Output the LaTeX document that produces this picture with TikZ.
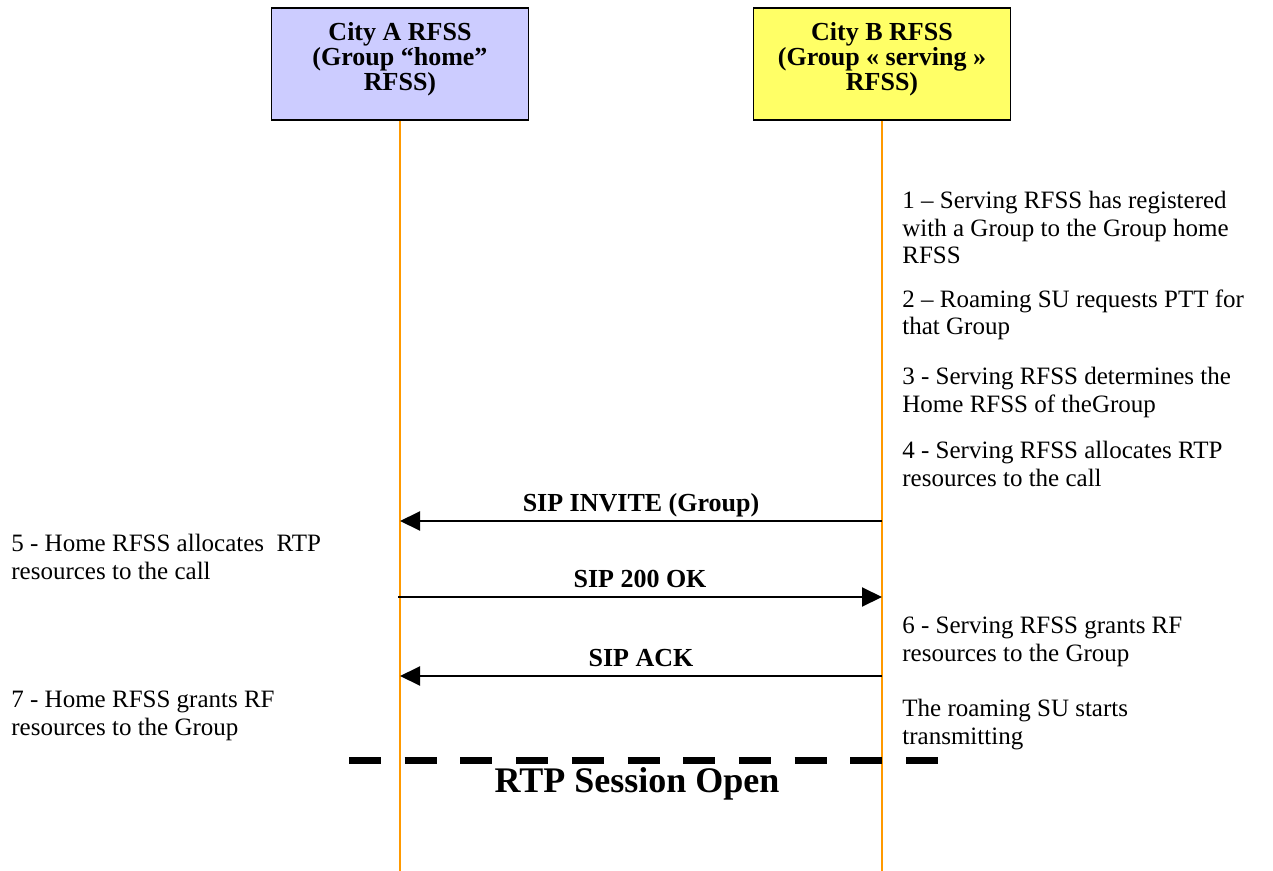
\documentclass[tikz,border=0pt]{standalone}
\usepackage{fontspec}
\setmainfont{Liberation Serif}
\usetikzlibrary{arrows.meta,positioning,calc}
\definecolor{homeblue}{RGB}{204,204,255}
\definecolor{servyellow}{RGB}{255,255,102}
\definecolor{lifeorange}{RGB}{255,153,0}
\tikzset{
  rfss/.style={draw, line width=0.8pt, minimum width=128.5pt, minimum height=56pt, align=center, inner sep=0pt, font=\fontsize{13}{12.5}\selectfont\bfseries},
  life/.style={lifeorange, line width=0.8pt},
  msg/.style={line width=1pt, -{Triangle[length=10pt,width=9.5pt]}},
  msglabel/.style={midway, anchor=base, yshift=5pt, inner sep=0pt, font=\fontsize{13}{15}\selectfont\bfseries},
  note/.style={anchor=north west, align=left, inner sep=0pt, font=\fontsize{12.5}{13.75}\selectfont},
  rtpline/.style={line width=3.5pt, dash pattern=on 16pt off 11.85pt},
}
\begin{document}
\begin{tikzpicture}[x=0.5pt,y=-0.5pt]
		\useasboundingbox (0,0) rectangle (1273,871);
		% the two RFSS
		\node[rfss, fill=homeblue](A) at (400,64) {City A RFSS\\(Group “home”\\RFSS)\rule[-7.5pt]{0pt}{0pt}};
		\node[rfss, fill=servyellow](B) at (882,64) {City B RFSS\\(Group « serving »\\RFSS)\rule[-7.5pt]{0pt}{0pt}};
		\coordinate (Aend) at (400,871);
		\coordinate (Bend) at (882,871);
		\draw[life] (A.south) -- (Aend);
		\draw[life] (B.south) -- (Bend);
		% messages
		\coordinate (a1) at (400,521);
		\coordinate (b1) at (882,521);
		\coordinate (a2) at (398,597);
		\coordinate (b2) at (882,597);
		\coordinate (a3) at (400,676);
		\coordinate (b3) at (882,676);
		\draw[msg] (b1) -- node[msglabel]{SIP INVITE (Group)} (a1);
		\draw[msg] (a2) -- node[msglabel]{SIP 200 OK} (b2);
		\draw[msg] (b3) -- node[msglabel]{SIP ACK} (a3);
		% notes
		\node[note](N1) at (902,191) {1 – Serving RFSS has registered\\with a Group to the Group home\\RFSS};
		\node[note](N2) at (902,289) {2 – Roaming SU requests PTT for\\that Group};
		\node[note](N3) at (902,367) {3 - Serving RFSS determines the\\Home RFSS of theGroup};
		\node[note](N4) at (902,441) {4 - Serving RFSS allocates RTP\\resources to the call};
		\node[note](N5) at (11,534) {5 - Home RFSS allocates~ RTP\\resources to the call};
		\node[note](N6) at (902,617) {6 - Serving RFSS grants RF\\resources to the Group};
		\node[note](N7) at (11,691) {7 - Home RFSS grants RF\\resources to the Group};
		\node[note](N8) at (902,699) {The roaming SU starts\\transmitting};
		% RTP session
		\coordinate (d1) at (349,760);
		\coordinate (d2) at (938,760);
		\draw[rtpline] (d1) -- (d2);
		\node[anchor=base, inner sep=0pt, font=\fontsize{18}{20}\selectfont\bfseries](rtp) at (637,792) {RTP Session Open};
\end{tikzpicture}
\end{document}
